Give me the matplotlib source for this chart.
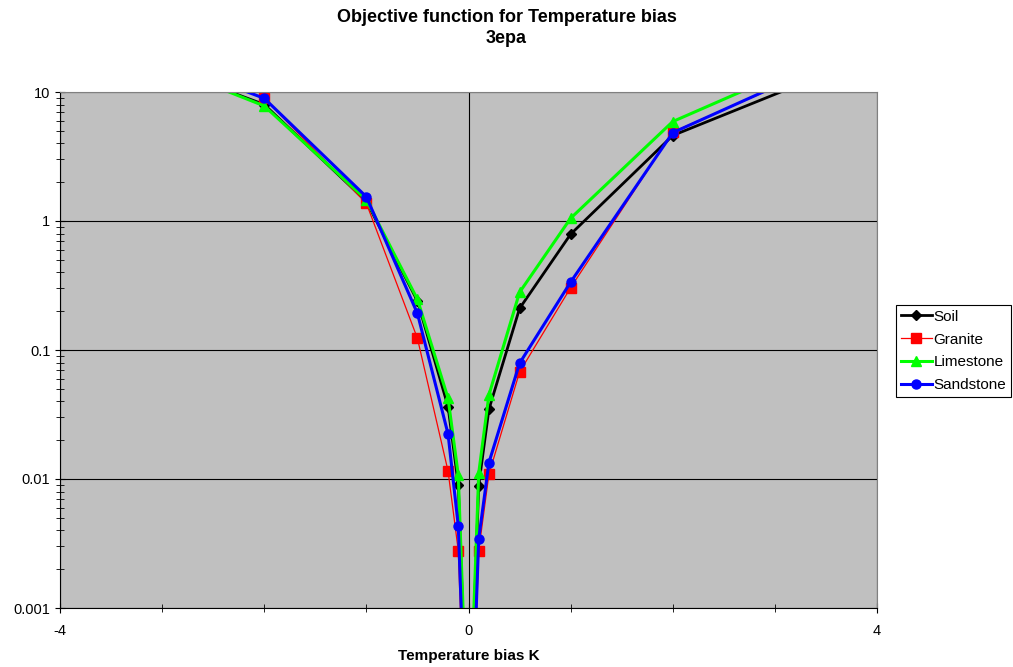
import matplotlib
matplotlib.use("Agg")
import matplotlib.pyplot as plt
from matplotlib.ticker import FixedLocator, LogLocator, NullFormatter, FuncFormatter

plt.rcParams['font.family'] = ['Liberation Sans', 'DejaVu Sans']

# temperature bias (K) and objective function per rock type
bias = [-4, -2, -1, -0.5, -0.2, -0.1, -0.01, 0.01, 0.1, 0.2, 0.5, 1, 2, 4]
soil = [31, 8.0, 1.42, 0.24, 0.0363, 0.0090, 0.00009, 0.000089,
        0.0089, 0.0347, 0.21, 0.79, 4.6, 20]
granite = [35, 8.93, 1.37, 0.123, 0.0115, 0.00278, 0.0000278, 0.0000275,
           0.00278, 0.0109, 0.0675, 0.304, 4.9, 24]
limestone = [33, 7.8, 1.46, 0.247, 0.0422, 0.0107, 0.000107, 0.000111,
             0.0111, 0.0448, 0.28, 1.05, 5.9, 29]
sandstone = [35.5, 8.93, 1.54, 0.192, 0.0223, 0.00432, 0.0000432, 0.0000343,
             0.00343, 0.0134, 0.0789, 0.336, 4.84, 25]

fig = plt.figure(figsize=(10.13, 6.67), dpi=100)
ax = fig.add_axes([60 / 1013, 59 / 667, 817 / 1013, 516 / 667])
ax.set_facecolor("#C0C0C0")

ax.plot(bias, soil, color="black", lw=2.0, marker="D", ms=5, label="Soil")
ax.plot(bias, granite, color="#FF0000", lw=0.9, marker="s", ms=6.5, label="Granite")
ax.plot(bias, limestone, color="#00FF00", lw=2.2, marker="^", ms=7, label="Limestone")
ax.plot(bias, sandstone, color="#0000FF", lw=2.2, marker="o", ms=6.5, label="Sandstone")

ax.set_yscale("log")
ax.set_xlim(-4, 4)
ax.set_ylim(0.001, 10)

ax.xaxis.set_major_locator(FixedLocator([-4, 0, 4]))
ax.xaxis.set_minor_locator(FixedLocator(range(-4, 5)))
ax.xaxis.set_major_formatter(FuncFormatter(lambda v, p: "%g" % v))
ax.yaxis.set_major_locator(FixedLocator([0.001, 0.01, 0.1, 1, 10]))
ax.yaxis.set_minor_locator(LogLocator(base=10, subs=range(2, 10)))
ax.yaxis.set_minor_formatter(NullFormatter())
ax.yaxis.set_major_formatter(FuncFormatter(lambda v, p: "%g" % v))

ax.grid(True, which="major", color="black", lw=0.8)
ax.tick_params(which="both", direction="inout", labelsize=10.5, color="black")
ax.tick_params(which="major", length=7)
ax.tick_params(which="minor", length=6)
ax.tick_params(axis="x", pad=8)

for side in ["top", "right"]:
    ax.spines[side].set_color("#808080")
for side in ["left", "bottom"]:
    ax.spines[side].set_color("black")

fig.text(0.5, 1 - 17 / 667, "Objective function for Temperature bias",
         ha="center", va="center", fontsize=13, fontweight="bold")
fig.text(0.5, 1 - 38.5 / 667, "3epa", ha="center", va="center",
         fontsize=13, fontweight="bold")
ax.set_xlabel("Temperature bias K", fontsize=11, fontweight="bold", labelpad=8)

leg = ax.legend(loc="center left", bbox_to_anchor=(896 / 1013, 1 - 351 / 667),
                bbox_transform=fig.transFigure, fontsize=11, frameon=True,
                fancybox=False, edgecolor="black", framealpha=1,
                borderpad=0.3, labelspacing=0.58, handlelength=2.05,
                handletextpad=0.1, borderaxespad=0)
leg.get_frame().set_linewidth(0.8)

fig.savefig("out.png", dpi=100)
